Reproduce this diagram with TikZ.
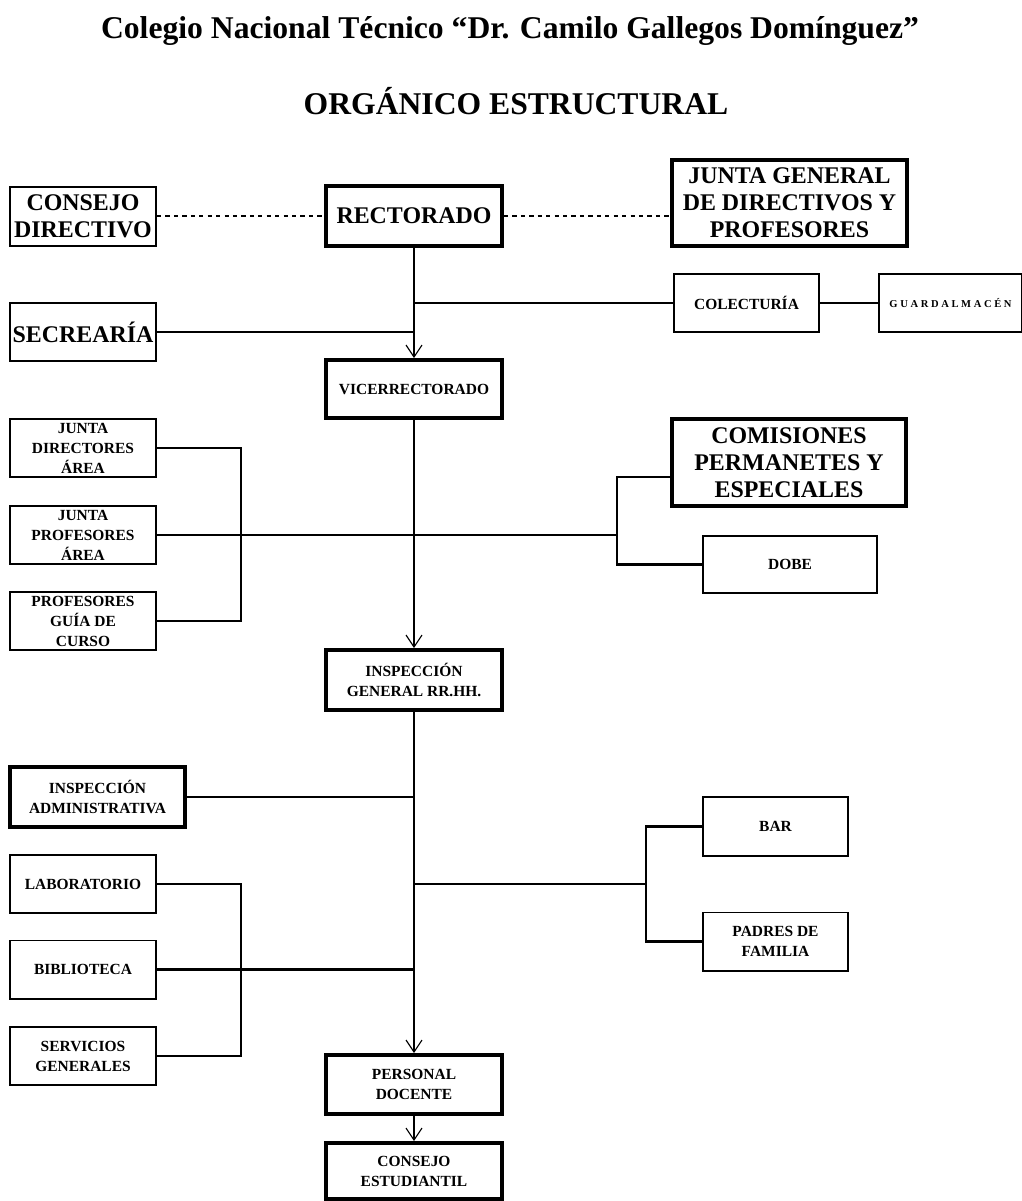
\documentclass[tikz,border=0pt]{standalone}
\usepackage{fontspec}
\setmainfont{Liberation Serif}
\usetikzlibrary{arrows.meta,positioning}

\begin{document}
\begin{tikzpicture}[
  x=0.025cm, y=-0.025cm,
  every node/.style={align=center, font=\bfseries, inner sep=1pt},
  thinbox/.style={draw, line width=1.4pt},
  thickbox/.style={draw, line width=2.8pt},
  bigtxt/.style={font=\fontsize{17}{19.2}\selectfont\bfseries},
  smalltxt/.style={font=\fontsize{11}{14.2}\selectfont\bfseries},
  tinytxt/.style={font=\fontsize{7.5}{9}\selectfont\bfseries\addfontfeature{LetterSpace=25}},
  titletxt/.style={font=\fontsize{22.5}{27}\selectfont\bfseries, anchor=base},
  cell/.style={minimum width=3.65cm, minimum height=1.45cm},
  maincell/.style={minimum width=4.4cm, minimum height=1.45cm},
  link/.style={line width=1.6pt},
  trunk/.style={line width=0.8pt},
  arr/.style={trunk, -{Straight Barb[length=3mm, width=4mm]}},
  dashlink/.style={dashed, line width=1.2pt}
]
\useasboundingbox (0,0) rectangle (1021,1201);

% titles
\node[titletxt] (title) at (510,39) {Colegio Nacional Técnico “Dr. Camilo Gallegos Domínguez”};
\node[titletxt] (subtitle) at (516,115) {ORGÁNICO ESTRUCTURAL};

% main column
\node[thickbox, bigtxt, maincell, minimum height=1.5cm] (rector) at (414,216) {RECTORADO};
\node[thickbox, smalltxt, maincell] (vice) at (414,389) {VICERRECTORADO};
\node[thickbox, smalltxt, maincell, minimum height=1.5cm] (insg) at (414,680) {INSPECCIÓN\\GENERAL RR.HH.};
\node[thickbox, smalltxt, maincell, minimum height=1.475cm] (personal) at (414,1084.5) {PERSONAL\\DOCENTE};
\node[thickbox, smalltxt, maincell, minimum height=1.4cm] (cest) at (414,1171) {CONSEJO\\ESTUDIANTIL};

% left column
\node[thinbox, bigtxt, cell, minimum height=1.475cm] (consejo) at (83,216.5) {CONSEJO\\DIRECTIVO};
\node[thinbox, bigtxt, cell] (secre) at (83,332) {SECREARÍA};
\node[thinbox, smalltxt, cell] (jdir) at (83,448) {JUNTA\\DIRECTORES\\ÁREA};
\node[thinbox, smalltxt, cell] (jprof) at (83,535) {JUNTA\\PROFESORES\\ÁREA};
\node[thinbox, smalltxt, cell] (pguia) at (83,621) {PROFESORES\\GUÍA DE\\CURSO};
\node[thickbox, smalltxt, minimum width=4.375cm, minimum height=1.5cm] (insadm) at (97.5,797) {INSPECCIÓN\\ADMINISTRATIVA};
\node[thinbox, smalltxt, cell] (lab) at (83,884) {LABORATORIO};
\node[thinbox, smalltxt, cell] (biblio) at (83,969.5) {BIBLIOTECA};
\node[thinbox, smalltxt, cell] (serv) at (83,1056) {SERVICIOS\\GENERALES};

% right column
\node[thickbox, bigtxt, minimum width=5.875cm, minimum height=2.15cm] (juntagen) at (789.5,203) {JUNTA GENERAL\\DE DIRECTIVOS Y\\PROFESORES};
\node[thinbox, smalltxt, minimum width=3.625cm, minimum height=1.45cm] (colect) at (746.5,303) {COLECTURÍA};
\node[thinbox, tinytxt, minimum width=3.575cm, minimum height=1.45cm, right=1.45cm of colect] (guard) {GUARDALMACÉN};
\node[thickbox, bigtxt, minimum width=5.85cm, minimum height=2.175cm] (comis) at (789,462.5) {COMISIONES\\PERMANETES Y\\ESPECIALES};
\node[thinbox, smalltxt, minimum width=4.35cm, minimum height=1.425cm] (dobe) at (790,564.5) {DOBE};
\node[thinbox, smalltxt, minimum width=3.625cm, minimum height=1.475cm] (bar) at (775.5,826.5) {BAR};
\node[thinbox, smalltxt, minimum width=3.625cm, minimum height=1.45cm] (padres) at (775.5,941.5) {PADRES DE\\FAMILIA};

\coordinate (lbus) at (241,0);
\coordinate (rbusA) at (617,477);
\coordinate (rbusB) at (646,884);

% connectors
\draw[dashlink] (rector.west -| consejo.east) -- (rector.west);
\draw[dashlink] (rector.east) -- (rector.east -| juntagen.west);
\draw[arr] (rector) -- (vice);
\draw[link] (rector.south |- colect.west) -- (colect.west);
\draw[link] (colect) -- (guard);
\draw[link] (secre.east) -- ([xshift=1pt]secre.east -| rector.south);
\draw[arr] (vice) -- (insg);
\draw[link] (jdir.east) -| (lbus |- pguia.east) -- (pguia.east);
\draw[link] (jprof.east) -- (rbusA |- jprof.east);
\draw[link] (rbusA -| comis.west) -- (rbusA) |- (dobe.west);
\draw[arr] (insg) -- (personal);
\draw[link] (insadm.east) -- ([xshift=1pt]insadm.east -| insg.south);
\draw[link] (lab.east) -| (lbus |- serv.east) -- (serv.east);
\draw[link] (biblio.east) -- ([xshift=1pt]biblio.east -| insg.south);
\draw[link] (insg.south |- rbusB) -- (rbusB);
\draw[link] (bar.west) -| (rbusB) |- (padres.west);
\draw[arr] (personal) -- (cest);

\end{tikzpicture}
\end{document}
